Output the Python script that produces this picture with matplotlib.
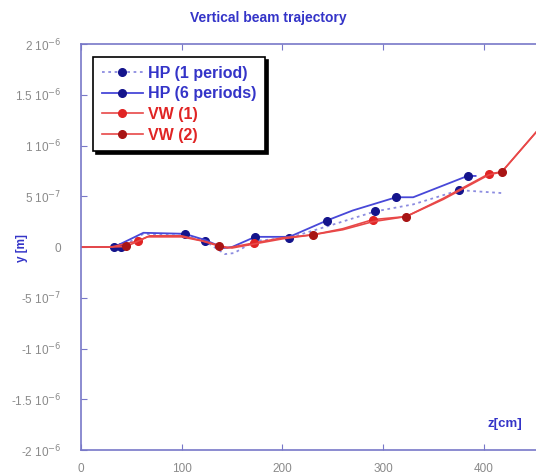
import matplotlib
matplotlib.use("Agg")
import matplotlib.pyplot as plt

plt.rcParams["font.family"] = ["Liberation Sans", "DejaVu Sans"]

# trajectories, z in cm, y in units of 1e-7 m
hp1_z = [0, 33, 40, 62, 103, 123, 143, 152, 173, 207, 250, 292, 330, 376, 420]
hp1_y = [0, 0, 0, 1.3, 1.1, 0.6, -0.7, -0.6, 0.6, 0.9, 2.2, 3.5, 4.2, 5.6, 5.3]
hp1_marks = [2, 5, 9, 11, 13]

hp6_z = [0, 33, 62, 103, 123, 142, 150, 173, 207, 244, 270, 313, 330, 384, 392]
hp6_y = [0, 0, 1.4, 1.3, 0.7, -0.1, 0, 1.0, 1.0, 2.6, 3.6, 4.9, 4.9, 7.0, 7.0]
hp6_marks = [1, 3, 7, 9, 11, 13]

vw1_z = [0, 30, 57, 68, 100, 125, 145, 172, 200, 230, 260, 290, 323, 360, 405, 418, 452]
vw1_y = [0, 0, 0.6, 1.1, 1.1, 0.5, -0.1, 0.4, 0.9, 1.2, 1.8, 2.7, 3.0, 4.8, 7.2, 7.4, 11.3]
vw1_marks = [2, 7, 11, 14]

vw2_z = [0, 30, 45, 66, 100, 120, 137, 150, 172, 200, 230, 260, 290, 323, 360, 405, 418, 452]
vw2_y = [0, 0, 0.05, 1.0, 1.0, 0.6, 0.1, -0.1, 0.3, 0.8, 1.2, 1.7, 2.5, 3.0, 4.7, 7.1, 7.4, 11.3]
vw2_marks = [2, 6, 10, 13, 16]

y_ticks = [-2e-6, -1.5e-6, -1e-6, -5e-7, 0, 5e-7, 1e-6, 1.5e-6, 2e-6]
y_tick_labels = [r"-2 10$^{-6}$", r"-1.5 10$^{-6}$", r"-1 10$^{-6}$", r"-5 10$^{-7}$", "0",
                 r"5 10$^{-7}$", r"1 10$^{-6}$", r"1.5 10$^{-6}$", r"2 10$^{-6}$"]
x_ticks = [0, 100, 200, 300, 400]

blue_line = "#4848d8"
blue_dot = "#8c8ce0"
navy = "#14148c"
red_line = "#e84848"
red_mark = "#e02424"
dark_red = "#a81414"
spine_col = "#7878c8"

fig = plt.figure(figsize=(5.36, 4.76), dpi=100)
ax = fig.add_axes([81 / 536, 1 - 450 / 476, 455 / 536, 406 / 476])

def scaled(vals):
    return [v * 1e-7 for v in vals]

ax.plot(hp1_z, scaled(hp1_y), color=blue_dot, lw=1.3, ls=(0, (1.5, 2)),
        marker="o", ms=5.5, mfc=navy, mec=navy, markevery=hp1_marks, label="HP (1 period)")
ax.plot(hp6_z, scaled(hp6_y), color=blue_line, lw=1.3,
        marker="o", ms=5.5, mfc=navy, mec=navy, markevery=hp6_marks, label="HP (6 periods)")
ax.plot(vw1_z, scaled(vw1_y), color=red_line, lw=1.2,
        marker="o", ms=5.5, mfc=red_mark, mec=red_mark, markevery=vw1_marks, label="VW (1)")
ax.plot(vw2_z, scaled(vw2_y), color=red_line, lw=1.2,
        marker="o", ms=5.5, mfc=dark_red, mec=dark_red, markevery=vw2_marks, label="VW (2)")

ax.set_xlim(0, 452)
ax.set_ylim(-2e-6, 2e-6)
ax.set_xticks(x_ticks)
ax.set_yticks(y_ticks)
ax.set_yticklabels(y_tick_labels)

for side in ("left", "bottom", "top"):
    ax.spines[side].set_color(spine_col)
    ax.spines[side].set_linewidth(1.2)
ax.spines["right"].set_visible(False)
ax.tick_params(axis="both", direction="in", length=4, color=spine_col,
               labelcolor="#8a8a8a", labelsize=8.5)
ax.tick_params(axis="x", top=True, pad=9)
ax.tick_params(axis="y", pad=14)

fig.text(0.5, 1 - 18 / 476, "Vertical beam trajectory", ha="center", va="center",
         color="#3434c8", fontsize=10, fontweight="bold")
fig.text(22 / 536, 1 - 248 / 476, "y [m]", ha="center", va="center", rotation=90,
         color="#3434c8", fontsize=8.5, fontweight="bold")
ax.text(421, -1.745e-6, "z[cm]", ha="center", va="center",
        color="#3434c8", fontsize=9.5, fontweight="bold")

leg = ax.legend(loc="upper left", bbox_to_anchor=(0.026, 0.968), borderaxespad=0,
                fancybox=False, shadow={"color": "black", "alpha": 1},
                handlelength=2.6, handletextpad=0.3, labelspacing=0.35,
                borderpad=0.55, prop={"size": 11.5, "weight": "bold"})
leg.get_frame().set_edgecolor("black")
leg.get_frame().set_linewidth(1.2)
for txt, col in zip(leg.get_texts(), ["#3434c8", "#3434c8", red_mark, red_mark]):
    txt.set_color(col)

fig.savefig("out.png", dpi=100)
